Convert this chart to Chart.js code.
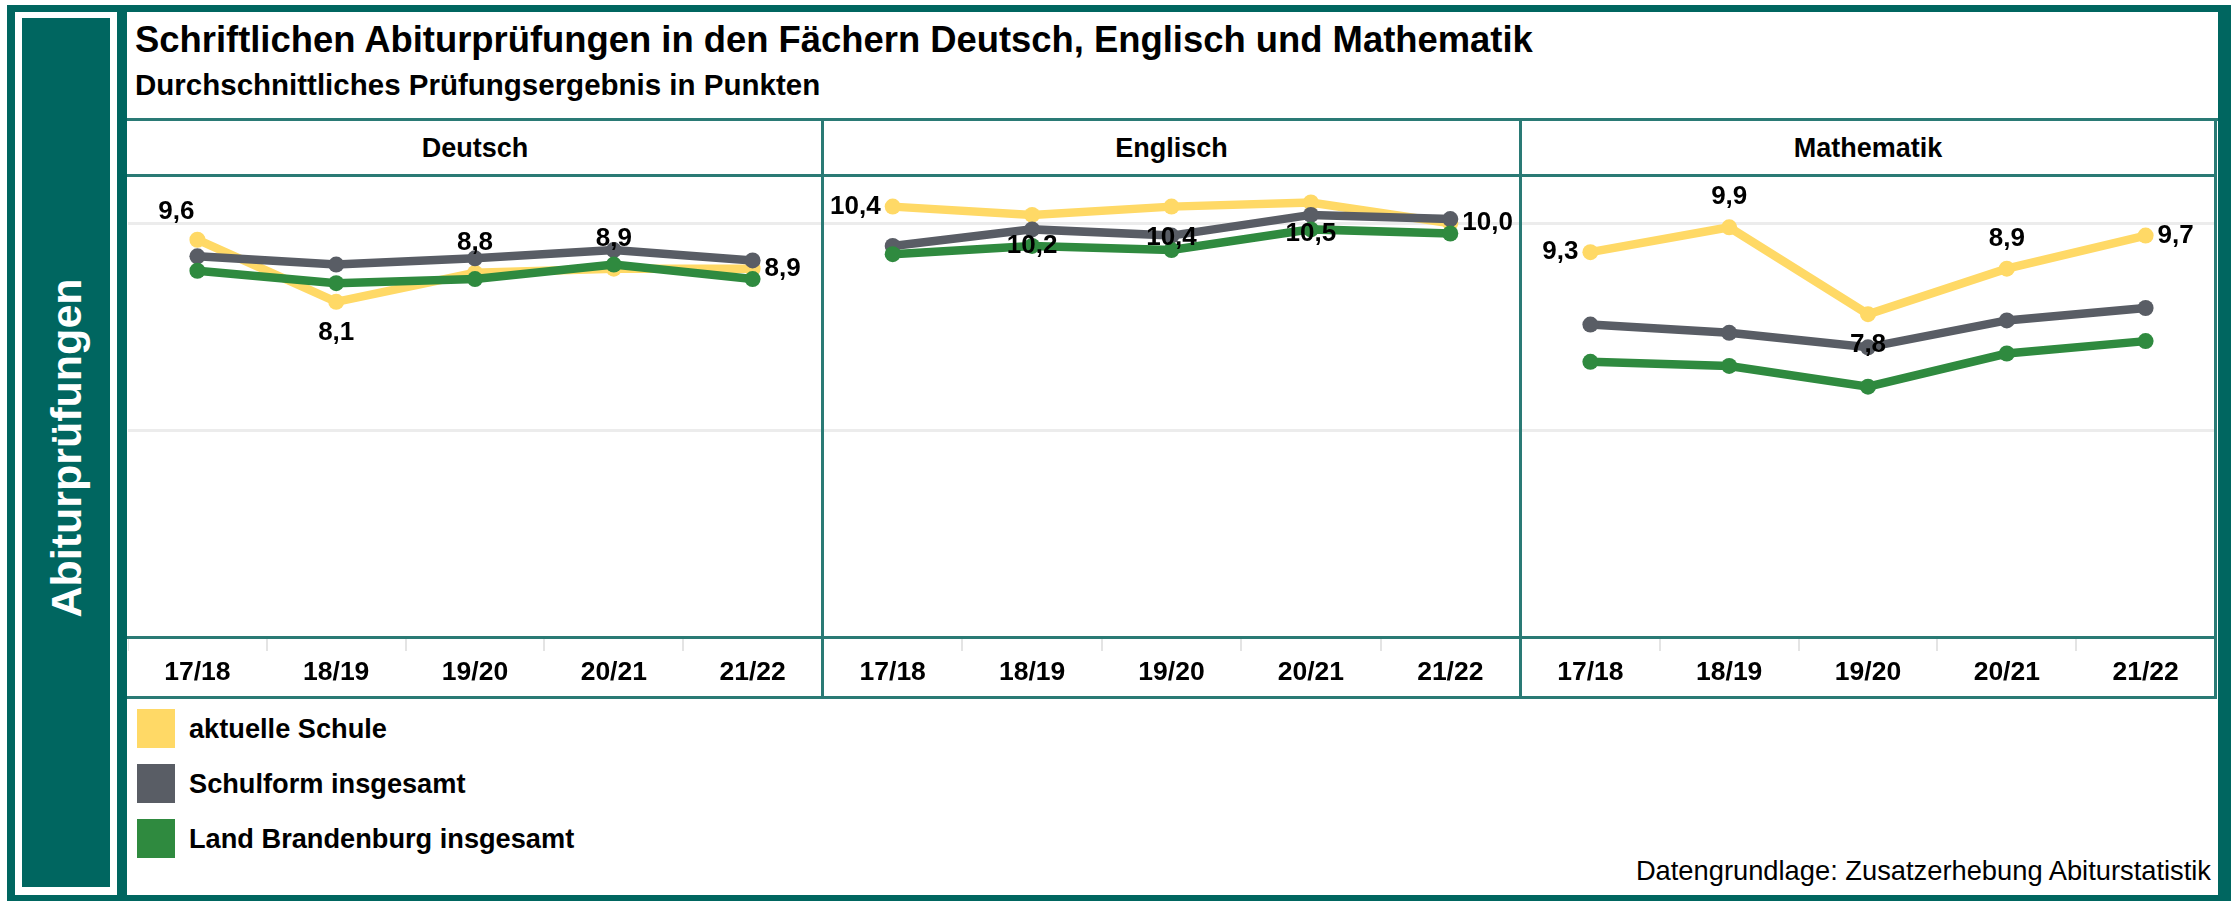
<!DOCTYPE html>
<html><head><meta charset="utf-8">
<script src="https://cdn.jsdelivr.net/npm/chart.js@4.4.1/dist/chart.umd.min.js"></script>
<style>
html,body{margin:0;padding:0;background:#fff;}
body{width:2231px;height:901px;position:relative;overflow:hidden;font-family:'Liberation Sans',Arial,sans-serif;}
.abs{position:absolute;}
.txt{position:absolute;white-space:nowrap;line-height:1;color:#000;}
</style></head><body>
<script>
// ---------------- data ----------------
const categories = ['17/18', '18/19', '19/20', '20/21', '21/22'];
const subjects = ['Deutsch', 'Englisch', 'Mathematik'];
const seriesNames = ['aktuelle Schule', 'Schulform insgesamt', 'Land Brandenburg insgesamt'];

const deutschSchule    = [9.6, 8.1, 8.8, 8.9, 8.9];
const deutschSchulform = [9.2, 9.0, 9.15, 9.35, 9.1];
const deutschLand      = [8.85, 8.55, 8.65, 9.0, 8.65];

const englischSchule    = [10.4, 10.2, 10.4, 10.5, 10.0];
const englischSchulform = [9.45, 9.85, 9.7, 10.2, 10.1];
const englischLand      = [9.25, 9.45, 9.35, 9.85, 9.75];

const matheSchule    = [9.3, 9.9, 7.8, 8.9, 9.7];
const matheSchulform = [7.55, 7.35, 7.0, 7.65, 7.95];
const matheLand      = [6.65, 6.55, 6.05, 6.85, 7.15];

const gridTicks = [0, 5, 10];

// ---------------- styles / layout ----------------
const FONT = "'Liberation Sans', Arial, sans-serif";
const TEAL = '#006660';
const LINE = '#2a7a75';
const COLORS = ['#FFD966', '#595D65', '#2F8A3F'];
const ORDERS = [3, 2, 1];
const labelPlacement = [
  ['topleft', 'bottom', 'top', 'top', 'right'],
  ['left', 'bottom', 'bottom', 'bottom', 'right'],
  ['left', 'top', 'bottom', 'top', 'right']
];
const panelX = [[128, 822], [823, 1520], [1521, 2215]];
const seriesBySubject = [
  [deutschSchule, deutschSchulform, deutschLand],
  [englischSchule, englischSchulform, englischLand],
  [matheSchule, matheSchulform, matheLand]
];

function rect(x, y, w, h, color, z) {
  const d = document.createElement('div');
  d.className = 'abs';
  Object.assign(d.style, {left: x + 'px', top: y + 'px', width: w + 'px', height: h + 'px', background: color, zIndex: z || 0});
  document.body.appendChild(d);
  return d;
}
function text(str, x, baseline, size, weight, align, color, z) {
  const d = document.createElement('div');
  d.className = 'txt';
  d.textContent = str;
  d.style.fontSize = size + 'px';
  d.style.fontWeight = weight;
  d.style.color = color || '#000';
  d.style.top = (baseline - 0.8465 * size) + 'px';
  d.style.zIndex = z || 3;
  if (align === 'center') { d.style.left = x + 'px'; d.style.transform = 'translateX(-50%)'; }
  else if (align === 'right') { d.style.right = (2231 - x) + 'px'; }
  else { d.style.left = x + 'px'; }
  document.body.appendChild(d);
  return d;
}

// frame
rect(7, 5, 2224, 896, TEAL);
rect(15, 12, 102, 883, '#fff');
rect(22, 18, 88, 869, TEAL);
rect(127, 12, 2091, 883, '#fff');

// side label
const side = document.createElement('div');
side.className = 'txt';
side.textContent = 'Abiturprüfungen';
Object.assign(side.style, {left: '66px', top: '448px', fontSize: '43px', fontWeight: 'bold', color: '#fff',
  transform: 'translate(-50%,-50%) rotate(-90deg)', zIndex: 3});
document.body.appendChild(side);

// titles
text('Schriftlichen Abiturprüfungen in den Fächern Deutsch, Englisch und Mathematik', 135, 53, 36.4, 'bold');
text('Durchschnittliches Prüfungsergebnis in Punkten', 135, 95, 29.5, 'bold');

// panel lines
rect(127, 118, 2091, 3, LINE, 2);
rect(127, 174, 2090, 3, LINE, 2);
rect(127, 636, 2090, 3, LINE, 2);
rect(127, 696, 2090, 3, LINE, 2);
rect(821, 118, 3, 581, LINE, 2);
rect(1519, 118, 3, 581, LINE, 2);
rect(2214, 118, 3, 581, LINE, 2);

// legend
const swY = [709, 764, 819];
seriesNames.forEach((n, i) => {
  rect(137, swY[i], 38, 39, COLORS[i], 1);
  text(n, 189, swY[i] + 29, 27.2, 'bold');
});
text('Datengrundlage: Zusatzerhebung Abiturstatistik', 2211, 880, 27.3, 'normal', 'right');

// value label plugin
const valueLabels = {
  id: 'valueLabels',
  afterDatasetsDraw(chart, args, opts) {
    const meta = chart.getDatasetMeta(0);
    const ds = chart.data.datasets[0];
    const ctx = chart.ctx;
    ctx.save();
    ctx.font = 'bold 26px ' + FONT;
    ctx.fillStyle = '#000';
    ctx.textBaseline = 'middle';
    meta.data.forEach((pt, i) => {
      const txt = ds.data[i].toFixed(1).replace('.', ',');
      const pos = opts.placement[i];
      let x = pt.x, y = pt.y, align = 'center';
      if (pos === 'top') y -= 30;
      else if (pos === 'bottom') y += 31;
      else if (pos === 'left') { x -= 12; align = 'right'; }
      else if (pos === 'right') { x += 12; align = 'left'; }
      else if (pos === 'topleft') { x -= 21; y -= 28; }
      ctx.textAlign = align;
      ctx.fillText(txt, x, y);
    });
    ctx.restore();
  }
};

// charts
subjects.forEach((subj, p) => {
  const [x0, x1] = panelX[p];
  text(subj, (x0 + x1) / 2, 158, 27, 'bold', 'center');
  const box = document.createElement('div');
  box.className = 'abs';
  Object.assign(box.style, {left: x0 + 'px', top: '176px', width: (x1 - x0) + 'px', height: '522px', zIndex: 1});
  const cv = document.createElement('canvas');
  box.appendChild(cv);
  document.body.appendChild(box);

  new Chart(cv, {
    type: 'line',
    data: {
      labels: categories,
      datasets: seriesBySubject[p].map((vals, i) => ({
        label: seriesNames[i],
        data: vals,
        borderColor: COLORS[i],
        backgroundColor: COLORS[i],
        pointBackgroundColor: COLORS[i],
        pointBorderWidth: 0,
        pointRadius: 8,
        borderWidth: 8.5,
        tension: 0,
        order: ORDERS[i],
        clip: false
      }))
    },
    options: {
      responsive: true,
      maintainAspectRatio: false,
      animation: false,
      events: [],
      layout: {padding: 0, autoPadding: false},
      plugins: {
        legend: {display: false},
        tooltip: {enabled: false},
        title: {display: false},
        valueLabels: {placement: labelPlacement[p]}
      },
      scales: {
        x: {
          type: 'category',
          offset: true,
          border: {display: false},
          grid: {offset: true, drawOnChartArea: false, drawTicks: true, tickLength: 14, color: '#e4e4e4', lineWidth: 2},
          ticks: {color: '#000', font: {family: FONT, size: 26.5, weight: 'bold', lineHeight: 1.2}, padding: 6, maxRotation: 0, autoSkip: false},
          afterFit: s => { s.height = 61; }
        },
        y: {
          min: 0,
          max: 11.14,
          border: {display: false},
          afterBuildTicks: s => { s.ticks = gridTicks.map(v => ({value: v})); },
          ticks: {display: false},
          grid: {drawTicks: false, lineWidth: 3, color: c => (c.tick && c.tick.value === 0) ? 'rgba(0,0,0,0)' : '#ececec'},
          afterFit: s => { s.width = 0; }
        }
      }
    },
    plugins: [valueLabels]
  });
});
</script>
</body></html>
